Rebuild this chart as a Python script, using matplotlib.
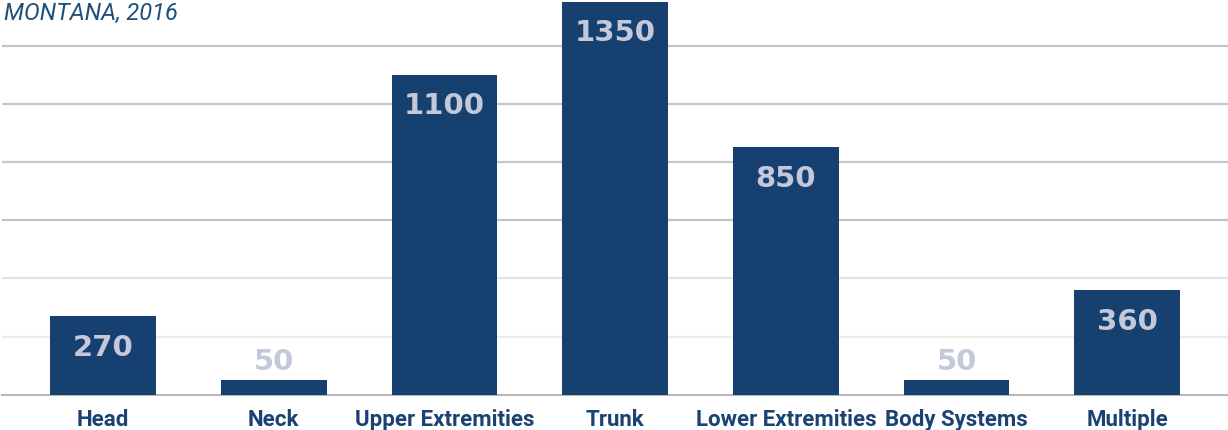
import matplotlib.pyplot as plt

# ===== DATA =====

categories = ['Head', 'Neck', 'Upper Extremities', 'Trunk',
              'Lower Extremities', 'Body Systems', 'Multiple']
counts = [270, 50, 1100, 1350, 850, 50, 360]
grid_ticks = [200, 400, 600, 800, 1000, 1200]

# ===== STYLE =====

bar_color   = '#15406f'
label_color = '#c5c8da'
text_color  = '#1a4273'

W, H = 1228, 431
fig = plt.figure(figsize=(W / 100, H / 100), dpi=100)
fig.patch.set_facecolor('white')

ax = fig.add_axes([2 / W, 35.3 / H, 1226 / W, 395.7 / H])
ax.set_xlim(-0.592, 6.59)
ax.set_ylim(0, 1360)

x = range(len(categories))
bars = ax.bar(x, counts, width=0.62, color=bar_color, zorder=3)

# Value labels: inside the bar near the top, above it when the bar is short
for xi, v in zip(x, counts):
    y = v - 105 if v > 150 else v + 66
    ax.text(xi, y, str(v), ha='center', va='center',
            fontsize=21, fontweight='bold', family='DejaVu Sans',
            color=label_color, zorder=4)

# Horizontal gridlines
ax.set_yticks(grid_ticks)
ax.yaxis.grid(True, linewidth=1.6, zorder=0)
grid_colors = ['#ececec', '#e4e4e4', '#c4c4c4', '#c8c8c8', '#c8c8c8', '#c4c4c4']
for gl, c in zip(ax.get_ygridlines(), grid_colors):
    gl.set_color(c)
ax.tick_params(axis='y', left=False, labelleft=False)

ax.set_xticks(list(x))
ax.set_xticklabels(categories, fontsize=16, fontweight='bold',
                   family='Roboto', fontstretch='condensed',
                   color=text_color)
ax.tick_params(axis='x', length=0, pad=9.5)

for side in ['top', 'right', 'left']:
    ax.spines[side].set_visible(False)
ax.spines['bottom'].set_color('#b8b8b8')
ax.spines['bottom'].set_linewidth(1.5)

fig.text(4 / W, 1 - 2 / H, 'MONTANA, 2016', ha='left', va='top',
         fontsize=17, style='italic', family='Roboto', fontstretch='condensed',
         color='#1f4e79')

plt.savefig('out.png', dpi=100)
